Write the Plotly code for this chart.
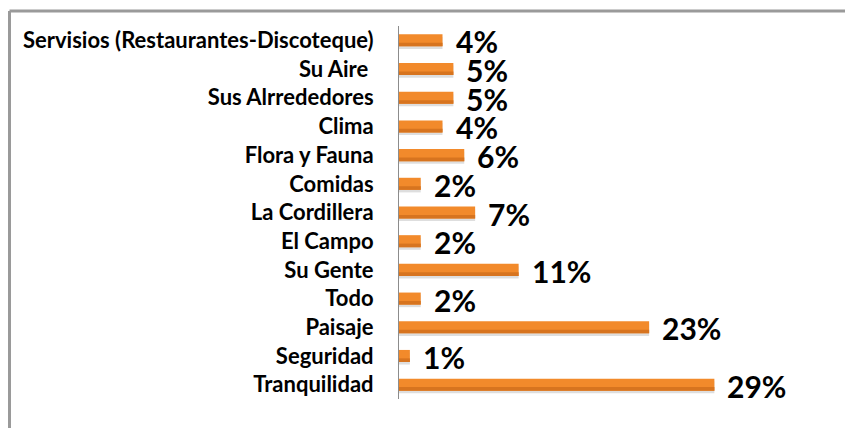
import plotly.graph_objects as go

categories = ["Servisios (Restaurantes-Discoteque)", "Su Aire\u00a0", "Sus Alrrededores", "Clima",
              "Flora y Fauna", "Comidas", "La Cordillera", "El Campo", "Su Gente", "Todo",
              "Paisaje", "Seguridad", "Tranquilidad"]
values = [4, 5, 5, 4, 6, 2, 7, 2, 11, 2, 23, 1, 29]
value_labels = [f"{v}%" for v in values]

BAR_W = 0.42
fig = go.Figure()
# soft shadow
fig.add_trace(go.Bar(
    y=categories, x=values, orientation="h", width=BAR_W, offset=-BAR_W / 2 + 0.09,
    marker=dict(color="rgba(0,0,0,0.13)", line=dict(width=0)), hoverinfo="skip", showlegend=False))
# main bars
fig.add_trace(go.Bar(
    y=categories, x=values, orientation="h", width=BAR_W, offset=-BAR_W / 2,
    marker=dict(color="#F28A2B", line=dict(width=0)), showlegend=False))
# darker lower edge
fig.add_trace(go.Bar(
    y=categories, x=values, orientation="h", width=BAR_W * 0.3, offset=BAR_W / 2 - BAR_W * 0.3,
    marker=dict(color="#D7741F", line=dict(width=0)), hoverinfo="skip", showlegend=False))

for c, v, t in zip(categories, values, value_labels):
    fig.add_annotation(x=v, y=c, text=f"<b>{t}</b>", showarrow=False, xanchor="left",
                       xshift=11, yshift=-1, font=dict(family="Lato", size=30, color="black"))

left_px, top_px = 399, 26
right_px, bottom_px = 98, 29
plot_w = 845 - left_px - right_px
plot_h = 428 - top_px - bottom_px
fig.update_layout(
    width=845, height=428, barmode="overlay",
    margin=dict(l=left_px, r=right_px, t=top_px, b=bottom_px),
    paper_bgcolor="white", plot_bgcolor="white",
    xaxis=dict(range=[0, 32], visible=False),
    yaxis=dict(range=[len(categories) - 0.5, -0.5], showline=True, linecolor="#8c8c8c", linewidth=1,
               ticks="", showgrid=False, ticklabelstandoff=20, automargin=False,
               tickfont=dict(family="Lato", size=22, color="black", weight="bold")),
    shapes=[
        dict(type="line", xref="paper", yref="paper",
             x0=(9.5 - left_px) / plot_w, x1=(900 - left_px) / plot_w,
             y0=1 + (top_px - 11) / plot_h, y1=1 + (top_px - 11) / plot_h,
             line=dict(color="#9a9a9a", width=3)),
        dict(type="line", xref="paper", yref="paper",
             x0=(9.5 - left_px) / plot_w, x1=(9.5 - left_px) / plot_w,
             y0=1 + (top_px - 11) / plot_h, y1=-0.2,
             line=dict(color="#9a9a9a", width=3)),
    ],
)
fig.write_html("out.html", config={"displayModeBar": False},
               post_script="document.body.style.margin='0';")
